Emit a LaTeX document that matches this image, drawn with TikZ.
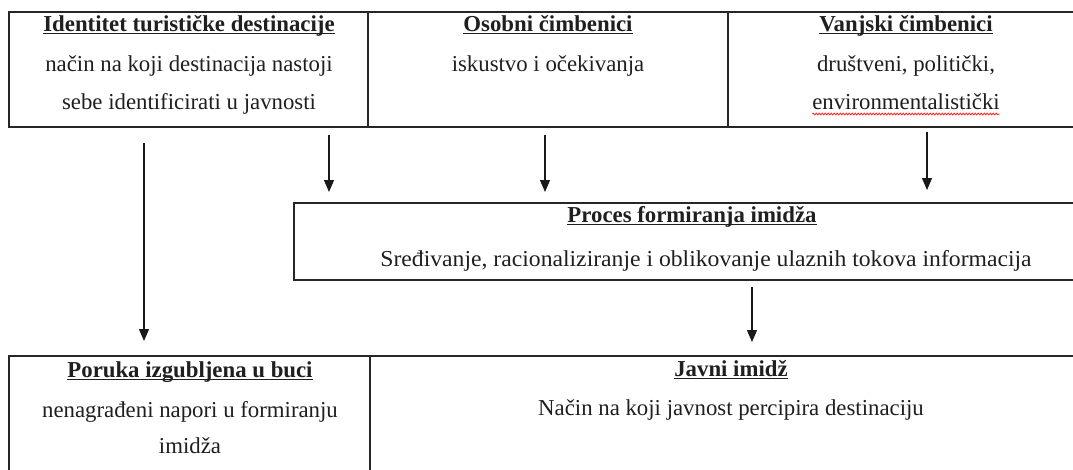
\documentclass[tikz,border=0pt]{standalone}
\usepackage{fontspec}
\setmainfont{Liberation Serif}
\usetikzlibrary{arrows.meta,decorations.pathmorphing}
\newcommand\hdul[1]{\setbox0=\hbox{#1}\rlap{\rule[-3.2pt]{\wd0}{1.4pt}}\box0}
\begin{document}
\begin{tikzpicture}[x=1pt,y=-1pt,
  cell/.style={draw=black!85,line width=1.8pt,inner sep=0pt,outer sep=0pt},
  txt/.style={anchor=base,inner sep=0pt,outer sep=0pt,text=black!88,font=\fontsize{22.8}{27}\selectfont},
  hd/.style={txt,font=\fontsize{22.8}{27}\selectfont\bfseries},
  arr/.style={draw=black!90,line width=1.2pt,-{Triangle[length=12pt,width=10pt]}}]
\useasboundingbox (0,0) rectangle (1073,469);
\clip (0,0) rectangle (1073,469);
\fill[white] (0,0) rectangle (1073,469);
% cells
\node[cell,minimum width=359pt,minimum height=115pt] (idt) at (188.5,69.5) {};
\node[cell,minimum width=360pt,minimum height=115pt] (osb) at (548,69.5) {};
\node[cell,minimum width=362pt,minimum height=115pt] (vanj) at (909,69.5) {};
\node[cell,minimum width=796pt,minimum height=77pt] (proc) at (692,241.5) {};
\node[cell,minimum width=361pt,minimum height=124pt] (por) at (189.5,418) {};
\node[cell,minimum width=722pt,minimum height=124pt] (javni) at (731,418) {};
% texts
\node[hd] (idth) at (189,31) {\hdul{Identitet turističke destinacije}};
\node[txt] (idta) at (189,71) {način na koji destinacija nastoji};
\node[txt] (idtb) at (189,109) {sebe identificirati u javnosti};
\node[hd] (osbh) at (548,31) {\hdul{Osobni čimbenici}};
\node[txt] (osba) at (548,71) {iskustvo i očekivanja};
\node[hd] (vanjh) at (906,31) {\hdul{Vanjski čimbenici}};
\node[txt] (vanja) at (906,71) {društveni, politički,};
\node[txt] (vanjb) at (906,109) {environmentalistički};
\draw[red!85,line width=0.8pt,decorate,decoration={snake,amplitude=0.9pt,segment length=3pt}]
  ([yshift=-5pt]vanjb.base west) -- ([yshift=-5pt]vanjb.base east);
\node[hd] (proch) at (692,222) {\hdul{Proces formiranja imidža}};
\node[txt,xscale=1.038,transform shape] (proca) at (706,266) {Sređivanje, racionaliziranje i oblikovanje ulaznih tokova informacija};
\node[hd] (porh) at (190,377) {\hdul{Poruka izgubljena u buci}};
\node[txt] (pora) at (190,417) {nenagrađeni napori u formiranju};
\node[txt] (porb) at (190,453) {imidža};
\node[hd] (javnih) at (731,376) {\hdul{Javni imidž}};
\node[txt] (javnia) at (731,415) {Način na koji javnost percipira destinaciju};
% arrows
\coordinate (a1) at (144,143);
\coordinate (a2) at (329,135);
\coordinate (a3) at (545,135);
\coordinate (a4) at (927,132);
\coordinate (a5) at (752,287);
\draw[arr,shorten >=15pt] (a1) -- (a1 |- por.north);
\draw[arr,shorten >=11pt] (a2) -- (a2 |- proc.north);
\draw[arr,shorten >=11pt] (a3) -- (a3 |- proc.north);
\draw[arr,shorten >=13pt] (a4) -- (a4 |- proc.north);
\draw[arr,shorten >=14pt] (a5) -- (a5 |- javni.north);
\end{tikzpicture}
\end{document}
